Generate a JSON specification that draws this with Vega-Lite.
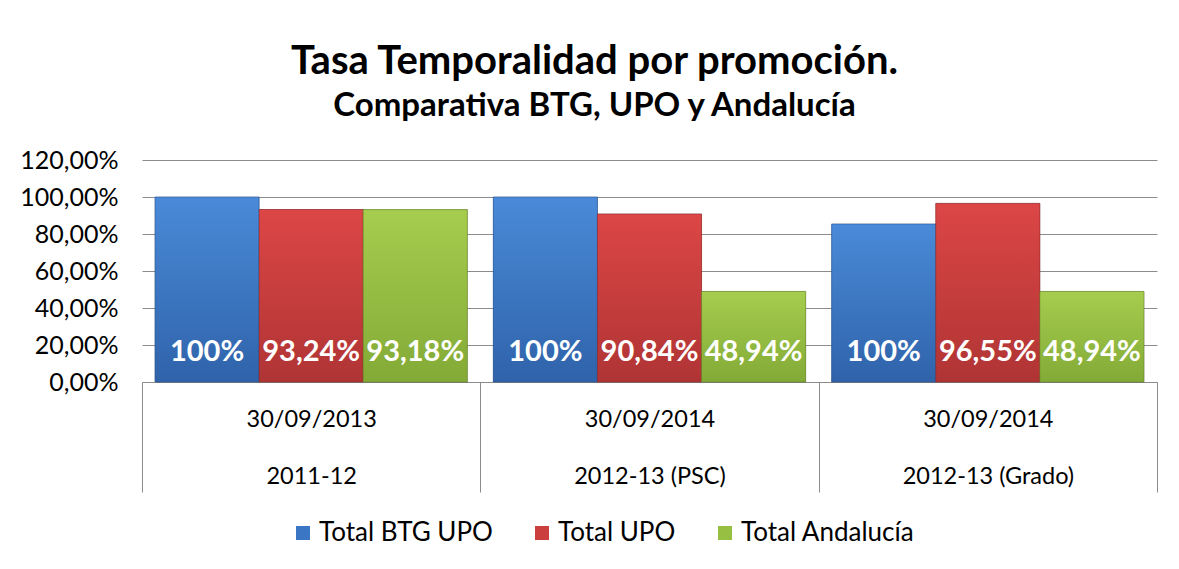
{
  "$schema": "https://vega.github.io/schema/vega-lite/v6.json",
  "width": 1015,
  "height": 222,
  "autosize": {"type": "none"},
  "padding": {"left": 142, "top": 160, "right": 22, "bottom": 187},
  "background": "white",
  "config": {"font": "Lato", "view": {"stroke": null}},
  "title": {
    "text": "Tasa Temporalidad por promoción.",
    "subtitle": "Comparativa BTG, UPO y Andalucía",
    "anchor": "middle",
    "dx": -55,
    "offset": 25,
    "font": "Lato",
    "fontSize": 40,
    "fontWeight": "bold",
    "color": "black",
    "subtitleFont": "Lato",
    "subtitleFontSize": 33,
    "subtitleFontWeight": "bold",
    "subtitleColor": "black",
    "subtitlePadding": 8
  },
  "data": {
    "values": [
      {"grupo": "30/09/2013|2011-12", "serie": "Total BTG UPO", "valor": 100, "etiqueta": "100%"},
      {"grupo": "30/09/2013|2011-12", "serie": "Total UPO", "valor": 93.24, "etiqueta": "93,24%"},
      {"grupo": "30/09/2013|2011-12", "serie": "Total Andalucía", "valor": 93.18, "etiqueta": "93,18%"},
      {"grupo": "30/09/2014|2012-13 (PSC)", "serie": "Total BTG UPO", "valor": 100, "etiqueta": "100%"},
      {"grupo": "30/09/2014|2012-13 (PSC)", "serie": "Total UPO", "valor": 90.84, "etiqueta": "90,84%"},
      {"grupo": "30/09/2014|2012-13 (PSC)", "serie": "Total Andalucía", "valor": 48.94, "etiqueta": "48,94%"},
      {"grupo": "30/09/2014|2012-13 (Grado)", "serie": "Total BTG UPO", "valor": 85.4, "etiqueta": "100%"},
      {"grupo": "30/09/2014|2012-13 (Grado)", "serie": "Total UPO", "valor": 96.55, "etiqueta": "96,55%"},
      {"grupo": "30/09/2014|2012-13 (Grado)", "serie": "Total Andalucía", "valor": 48.94, "etiqueta": "48,94%"}
    ]
  },
  "encoding": {
    "x": {
      "field": "grupo",
      "type": "nominal",
      "sort": null,
      "scale": {"paddingInner": 0, "paddingOuter": 0},
      "axis": {
        "title": null,
        "labelAngle": 0,
        "labelExpr": "split(datum.label, '|')",
        "labelFont": "Lato",
        "labelFontSize": 23.5,
        "labelColor": "black",
        "labelLineHeight": 57,
        "labelBaseline": "middle",
        "labelPadding": -73,
        "tickBand": "extent",
        "tickSize": 110,
        "tickColor": "#8c8c8c",
        "domainColor": "#8c8c8c",
        "grid": false
      }
    },
    "xOffset": {
      "field": "serie",
      "type": "nominal",
      "sort": ["Total BTG UPO", "Total UPO", "Total Andalucía"],
      "scale": {"domain": ["Total BTG UPO", "Total UPO", "Total Andalucía"], "paddingInner": 0, "paddingOuter": 0.125}
    },
    "y": {
      "field": "valor",
      "type": "quantitative",
      "scale": {"domain": [0, 120], "nice": false},
      "axis": {
        "title": null,
        "values": [0, 20, 40, 60, 80, 100, 120],
        "tickCount": 7,
        "labelOverlap": false,
        "labelExpr": "replace(format(datum.value, '.2f'), '.', ',') + '%'",
        "labelFont": "Lato",
        "labelFontSize": 25,
        "labelColor": "black",
        "labelPadding": 24,
        "ticks": false,
        "domain": false,
        "grid": true,
        "gridColor": "#8c8c8c",
        "gridWidth": 1
      }
    }
  },
  "layer": [
    {
      "mark": {"type": "bar", "stroke": "#00000030", "strokeWidth": 1},
      "encoding": {
        "color": {
          "field": "serie",
          "type": "nominal",
          "sort": ["Total BTG UPO", "Total UPO", "Total Andalucía"],
          "scale": {
            "domain": ["Total BTG UPO", "Total UPO", "Total Andalucía"],
            "range": ["#3a76c4", "#cc3f3f", "#97bf42"]
          },
          "legend": {
            "title": null,
            "orient": "none",
            "legendX": 148,
            "legendY": 360,
            "direction": "horizontal",
            "symbolType": "square",
            "symbolSize": 196,
            "symbolStrokeWidth": 0,
            "labelOffset": 3,
            "labelLimit": 400,
            "labelFont": "Lato",
            "labelFontSize": 26,
            "labelColor": "black",
            "columnPadding": 36
          }
        }
      }
    },
    {
      "transform": [{"filter": "datum.serie === 'Total BTG UPO'"}],
      "mark": {"type": "bar", "stroke": "#1f4f8f", "strokeOpacity": 0.5, "strokeWidth": 1,
        "color": {"gradient": "linear", "x1": 0, "y1": 0, "x2": 0, "y2": 1, "stops": [{"offset": 0, "color": "#4a8ad8"}, {"offset": 1, "color": "#2f63aa"}]}}
    },
    {
      "transform": [{"filter": "datum.serie === 'Total UPO'"}],
      "mark": {"type": "bar", "stroke": "#8a2626", "strokeOpacity": 0.5, "strokeWidth": 1,
        "color": {"gradient": "linear", "x1": 0, "y1": 0, "x2": 0, "y2": 1, "stops": [{"offset": 0, "color": "#dc4646"}, {"offset": 1, "color": "#b03434"}]}}
    },
    {
      "transform": [{"filter": "datum.serie === 'Total Andalucía'"}],
      "mark": {"type": "bar", "stroke": "#5f7f25", "strokeOpacity": 0.5, "strokeWidth": 1,
        "color": {"gradient": "linear", "x1": 0, "y1": 0, "x2": 0, "y2": 1, "stops": [{"offset": 0, "color": "#a6cd4e"}, {"offset": 1, "color": "#83aa36"}]}}
    },
    {
      "mark": {"type": "text", "color": "white", "font": "Lato", "fontSize": 29, "fontWeight": "bold", "baseline": "middle"},
      "encoding": {
        "y": {"datum": 16, "type": "quantitative"},
        "text": {"field": "etiqueta"}
      }
    }
  ]
}
